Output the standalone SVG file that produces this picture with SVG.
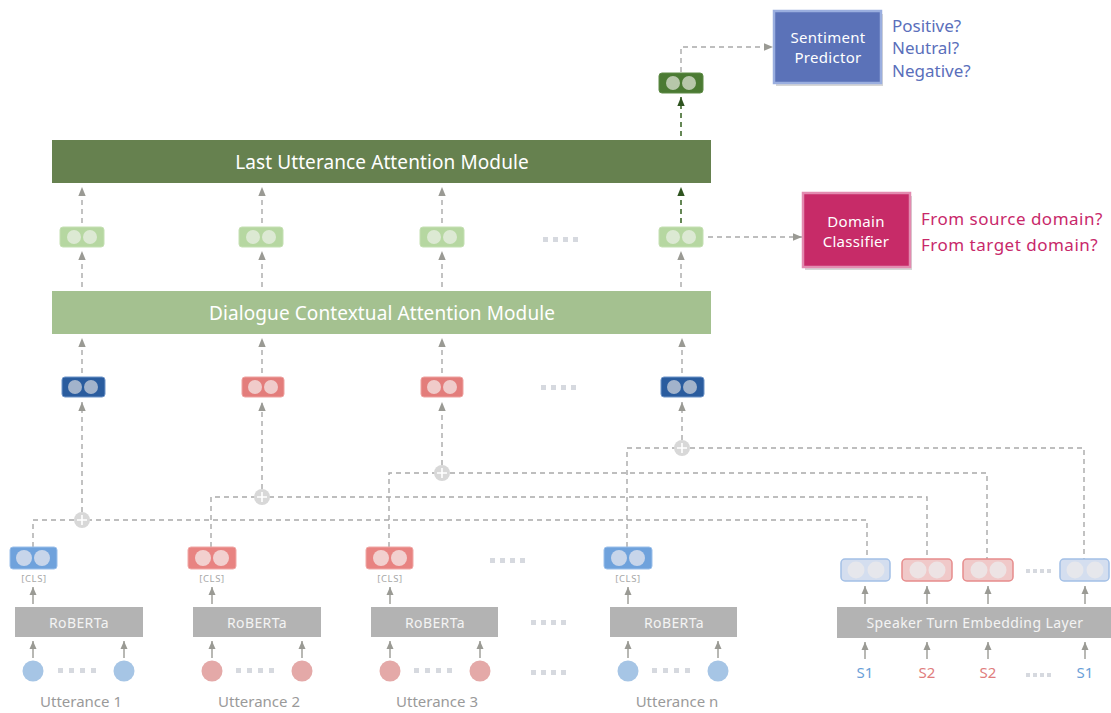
<svg xmlns="http://www.w3.org/2000/svg" width="1111" height="713" viewBox="0 0 1111 713">
<style>
text{font-family:"Noto Sans","Open Sans","Liberation Sans",sans-serif}
.dash{fill:none;stroke:#a9a9a9;stroke-width:1.4;stroke-dasharray:5 4}
.dashg{fill:none;stroke:#3f6a2c;stroke-width:1.6;stroke-dasharray:5 4}
.solid{fill:none;stroke:#9a9a94;stroke-width:1.4}
.dots rect{fill:#d6d9df}
.lbl{fill:#9a9a9a;font-size:15px;text-anchor:middle}
.rob{fill:#b3b3b3}
.robt{fill:#f4f4f4;font-size:14px;text-anchor:middle;letter-spacing:0.4px}
.cls{fill:#a8a8a8;font-size:9.5px;text-anchor:middle;letter-spacing:0.6px}
.plus circle{fill:#d8d8d8}
.plus path{stroke:#fff;stroke-width:1.6}
.mod{fill:#fff;font-size:19px;text-anchor:middle;letter-spacing:0.1px}
.side{font-size:17px}
.boxt{fill:#fff;font-size:15px;text-anchor:middle;letter-spacing:0.3px}
</style>
<defs>
<marker id="ah" markerUnits="userSpaceOnUse" markerWidth="9" markerHeight="12" refX="11" refY="4.5" orient="auto" viewBox="0 0 11 9">
<path d="M0,0 L11,4.5 L0,9 z" fill="#9a9a94"/>
</marker>
<marker id="ahs" markerUnits="userSpaceOnUse" markerWidth="8" markerHeight="8" refX="8" refY="3.5" orient="auto" viewBox="0 0 8 7">
<path d="M0,0 L8,3.5 L0,7 z" fill="#9a9a94"/>
</marker>
<marker id="ahg" markerUnits="userSpaceOnUse" markerWidth="9" markerHeight="12" refX="11" refY="4.5" orient="auto" viewBox="0 0 11 9">
<path d="M0,0 L11,4.5 L0,9 z" fill="#2f5420"/>
</marker>
</defs>

<!-- connectors -->
<g id="connectors">
<path class="dash" d="M33,547 V520 H867 V559"/>
<path class="dash" d="M211,547 V497 H927 V559"/>
<path class="dash" d="M389,547 V473 H987 V559"/>
<path class="dash" d="M627,547 V448 H1084 V559"/>
<line class="dash" x1="82" y1="512" x2="82" y2="402" marker-end="url(#ah)"/>
<line class="dash" x1="262" y1="489" x2="262" y2="402" marker-end="url(#ah)"/>
<line class="dash" x1="442" y1="465" x2="442" y2="402" marker-end="url(#ah)"/>
<line class="dash" x1="682" y1="440" x2="682" y2="402" marker-end="url(#ah)"/>
<line class="dash" x1="82" y1="373" x2="82" y2="338" marker-end="url(#ah)"/>
<line class="dash" x1="262" y1="373" x2="262" y2="338" marker-end="url(#ah)"/>
<line class="dash" x1="442" y1="373" x2="442" y2="338" marker-end="url(#ah)"/>
<line class="dash" x1="682" y1="373" x2="682" y2="338" marker-end="url(#ah)"/>
<line class="dash" x1="82" y1="287" x2="82" y2="251" marker-end="url(#ah)"/>
<line class="dash" x1="262" y1="287" x2="262" y2="251" marker-end="url(#ah)"/>
<line class="dash" x1="442" y1="287" x2="442" y2="251" marker-end="url(#ah)"/>
<line class="dash" x1="681" y1="287" x2="681" y2="251" marker-end="url(#ah)"/>
<line class="dash" x1="82" y1="223" x2="82" y2="187" marker-end="url(#ah)"/>
<line class="dash" x1="262" y1="223" x2="262" y2="187" marker-end="url(#ah)"/>
<line class="dash" x1="442" y1="223" x2="442" y2="187" marker-end="url(#ah)"/>
<line class="dashg" x1="681" y1="223" x2="681" y2="187" marker-end="url(#ahg)"/>
<line class="dashg" x1="681" y1="136" x2="681" y2="97" marker-end="url(#ahg)"/>
<path class="dash" d="M681,72 V47 H773" marker-end="url(#ah)"/>
<line class="dash" x1="708" y1="237" x2="802" y2="237" marker-end="url(#ah)"/>
<line class="solid" x1="33" y1="604" x2="33" y2="587" marker-end="url(#ahs)"/>
<line class="solid" x1="212" y1="604" x2="212" y2="587" marker-end="url(#ahs)"/>
<line class="solid" x1="390" y1="604" x2="390" y2="587" marker-end="url(#ahs)"/>
<line class="solid" x1="628" y1="604" x2="628" y2="587" marker-end="url(#ahs)"/>
<line class="solid" x1="33" y1="658" x2="33" y2="641" marker-end="url(#ahs)"/>
<line class="solid" x1="124" y1="658" x2="124" y2="641" marker-end="url(#ahs)"/>
<line class="solid" x1="212" y1="658" x2="212" y2="641" marker-end="url(#ahs)"/>
<line class="solid" x1="302" y1="658" x2="302" y2="641" marker-end="url(#ahs)"/>
<line class="solid" x1="390" y1="658" x2="390" y2="641" marker-end="url(#ahs)"/>
<line class="solid" x1="480" y1="658" x2="480" y2="641" marker-end="url(#ahs)"/>
<line class="solid" x1="628" y1="658" x2="628" y2="641" marker-end="url(#ahs)"/>
<line class="solid" x1="718" y1="658" x2="718" y2="641" marker-end="url(#ahs)"/>
<line class="solid" x1="865" y1="604" x2="865" y2="586" marker-end="url(#ahs)"/>
<line class="solid" x1="927" y1="604" x2="927" y2="586" marker-end="url(#ahs)"/>
<line class="solid" x1="988" y1="604" x2="988" y2="586" marker-end="url(#ahs)"/>
<line class="solid" x1="1085" y1="604" x2="1085" y2="586" marker-end="url(#ahs)"/>
<line class="solid" x1="865" y1="659" x2="865" y2="642" marker-end="url(#ahs)"/>
<line class="solid" x1="927" y1="659" x2="927" y2="642" marker-end="url(#ahs)"/>
<line class="solid" x1="988" y1="659" x2="988" y2="642" marker-end="url(#ahs)"/>
<line class="solid" x1="1085" y1="659" x2="1085" y2="642" marker-end="url(#ahs)"/>
</g>

<g id="plus1" class="plus"><circle cx="82" cy="520" r="8"/><path d="M77,520 H87 M82,515 V525"/></g>
<g id="plus2" class="plus"><circle cx="262" cy="497" r="8"/><path d="M257,497 H267 M262,492 V502"/></g>
<g id="plus3" class="plus"><circle cx="442" cy="473" r="8"/><path d="M437,473 H447 M442,468 V478"/></g>
<g id="plus4" class="plus"><circle cx="682" cy="448" r="8"/><path d="M677,448 H687 M682,443 V453"/></g>

<g id="luam">
<rect x="52" y="140" width="659" height="43" fill="#66814f"/>
<text class="mod" x="382" y="169">Last Utterance Attention Module</text>
</g>
<g id="dcam">
<rect x="52" y="291" width="659" height="43" fill="#a4c190"/>
<text class="mod" x="382" y="320">Dialogue Contextual Attention Module</text>
</g>

<g id="g1"><rect x="60" y="227" width="44" height="20" rx="3" fill="#b6d7a1" stroke="#c5e0b3"/><circle cx="74" cy="237" r="7" fill="#dce9d3"/><circle cx="90" cy="237" r="7" fill="#dce9d3"/></g>
<g id="g2"><rect x="239" y="227" width="44" height="20" rx="3" fill="#b6d7a1" stroke="#c5e0b3"/><circle cx="253" cy="237" r="7" fill="#dce9d3"/><circle cx="269" cy="237" r="7" fill="#dce9d3"/></g>
<g id="g3"><rect x="420" y="227" width="44" height="20" rx="3" fill="#b6d7a1" stroke="#c5e0b3"/><circle cx="434" cy="237" r="7" fill="#dce9d3"/><circle cx="450" cy="237" r="7" fill="#dce9d3"/></g>
<g id="g4"><rect x="659" y="227" width="44" height="20" rx="3" fill="#b6d7a1" stroke="#c5e0b3"/><circle cx="673" cy="237" r="7" fill="#dce9d3"/><circle cx="689" cy="237" r="7" fill="#dce9d3"/></g>
<g class="dots"><rect x="543" y="237" width="5" height="5"/><rect x="553" y="237" width="5" height="5"/><rect x="563" y="237" width="5" height="5"/><rect x="573" y="237" width="5" height="5"/></g>

<g id="out"><rect x="659" y="73" width="44" height="20" rx="3" fill="#4b7a33" stroke="#5e8b46"/><circle cx="673" cy="83" r="7" fill="#b7c7aa"/><circle cx="689" cy="83" r="7" fill="#b7c7aa"/></g>

<g id="sentiment">
<rect x="776" y="14" width="107" height="72" fill="#d6d6d6"/>
<rect x="774" y="11" width="107" height="72" fill="#5b72b8" stroke="#9aaedf" stroke-width="2.5"/>
<text class="boxt" x="828" y="43">Sentiment</text>
<text class="boxt" x="828" y="63">Predictor</text>
<text class="side" x="892" y="32" fill="#5a6fbb">Positive?</text>
<text class="side" x="892" y="54" fill="#5a6fbb">Neutral?</text>
<text class="side" x="892" y="77" fill="#5a6fbb">Negative?</text>
</g>

<g id="domain">
<rect x="805" y="196" width="107" height="74" fill="#d6d6d6"/>
<rect x="803" y="193" width="107" height="74" fill="#c72b68" stroke="#e38bb0" stroke-width="2.5"/>
<text class="boxt" x="856" y="227">Domain</text>
<text class="boxt" x="856" y="247">Classifier</text>
<text class="side" x="921" y="225" fill="#c8286a" letter-spacing="0.5">From source domain?</text>
<text class="side" x="921" y="251" fill="#c8286a" letter-spacing="0.5">From target domain?</text>
</g>

<g id="u1sum"><rect x="62" y="377" width="43" height="20" rx="3" fill="#2a5c9e" stroke="#6f95c8"/><circle cx="75" cy="387" r="7" fill="#a2b3cb"/><circle cx="91" cy="387" r="7" fill="#a2b3cb"/></g>
<g id="u2sum"><rect x="242" y="377" width="42" height="20" rx="3" fill="#e37d7b" stroke="#eea3a1"/><circle cx="255" cy="387" r="7" fill="#f0cbca"/><circle cx="271" cy="387" r="7" fill="#f0cbca"/></g>
<g id="u3sum"><rect x="421" y="377" width="42" height="20" rx="3" fill="#e37d7b" stroke="#eea3a1"/><circle cx="434" cy="387" r="7" fill="#f0cbca"/><circle cx="450" cy="387" r="7" fill="#f0cbca"/></g>
<g id="unsum"><rect x="661" y="377" width="43" height="20" rx="3" fill="#2a5c9e" stroke="#6f95c8"/><circle cx="674" cy="387" r="7" fill="#a2b3cb"/><circle cx="690" cy="387" r="7" fill="#a2b3cb"/></g>
<g class="dots"><rect x="541" y="385" width="5" height="5"/><rect x="551" y="385" width="5" height="5"/><rect x="561" y="385" width="5" height="5"/><rect x="571" y="385" width="5" height="5"/></g>

<g id="cls1"><rect x="10" y="547" width="47" height="22" rx="3" fill="#6fa2dc" stroke="#9cc0ea"/><circle cx="24" cy="558" r="8" fill="#c7d5ea"/><circle cx="42" cy="558" r="8" fill="#c7d5ea"/><text class="cls" x="34" y="582">[CLS]</text></g>
<g id="cls2"><rect x="188" y="547" width="48" height="22" rx="3" fill="#e88381" stroke="#f0a9a7"/><circle cx="203" cy="558" r="8" fill="#f2d0cf"/><circle cx="221" cy="558" r="8" fill="#f2d0cf"/><text class="cls" x="212" y="582">[CLS]</text></g>
<g id="cls3"><rect x="366" y="547" width="47" height="22" rx="3" fill="#e88381" stroke="#f0a9a7"/><circle cx="381" cy="558" r="8" fill="#f2d0cf"/><circle cx="399" cy="558" r="8" fill="#f2d0cf"/><text class="cls" x="390" y="582">[CLS]</text></g>
<g id="clsn"><rect x="604" y="547" width="48" height="22" rx="3" fill="#6fa2dc" stroke="#9cc0ea"/><circle cx="619" cy="558" r="8" fill="#c7d5ea"/><circle cx="637" cy="558" r="8" fill="#c7d5ea"/><text class="cls" x="628" y="582">[CLS]</text></g>
<g class="dots"><rect x="490" y="558" width="5" height="5"/><rect x="500" y="558" width="5" height="5"/><rect x="510" y="558" width="5" height="5"/><rect x="520" y="558" width="5" height="5"/></g>

<g id="rob1"><rect class="rob" x="15" y="607" width="128" height="30"/><text class="robt" x="79" y="628">RoBERTa</text></g>
<g id="rob2"><rect class="rob" x="193" y="607" width="128" height="30"/><text class="robt" x="257" y="628">RoBERTa</text></g>
<g id="rob3"><rect class="rob" x="371" y="607" width="127" height="30"/><text class="robt" x="435" y="628">RoBERTa</text></g>
<g id="robn"><rect class="rob" x="610" y="607" width="127" height="30"/><text class="robt" x="674" y="628">RoBERTa</text></g>
<g class="dots"><rect x="531" y="620" width="5" height="5"/><rect x="541" y="620" width="5" height="5"/><rect x="551" y="620" width="5" height="5"/><rect x="561" y="620" width="5" height="5"/></g>

<g id="tok1"><circle cx="33" cy="671" r="10.5" fill="#a6c5e5"/><circle cx="124" cy="671" r="10.5" fill="#a6c5e5"/>
<g class="dots"><rect x="58" y="668" width="5" height="5"/><rect x="69" y="668" width="5" height="5"/><rect x="80" y="668" width="5" height="5"/><rect x="91" y="668" width="5" height="5"/></g>
<text class="lbl" x="81" y="707">Utterance 1</text></g>
<g id="tok2"><circle cx="212" cy="671" r="10.5" fill="#e4a9a8"/><circle cx="302" cy="671" r="10.5" fill="#e4a9a8"/>
<g class="dots"><rect x="236" y="668" width="5" height="5"/><rect x="247" y="668" width="5" height="5"/><rect x="258" y="668" width="5" height="5"/><rect x="269" y="668" width="5" height="5"/></g>
<text class="lbl" x="259" y="707">Utterance 2</text></g>
<g id="tok3"><circle cx="390" cy="671" r="10.5" fill="#e4a9a8"/><circle cx="480" cy="671" r="10.5" fill="#e4a9a8"/>
<g class="dots"><rect x="414" y="668" width="5" height="5"/><rect x="425" y="668" width="5" height="5"/><rect x="436" y="668" width="5" height="5"/><rect x="447" y="668" width="5" height="5"/></g>
<text class="lbl" x="437" y="707">Utterance 3</text></g>
<g id="tokn"><circle cx="628" cy="671" r="10.5" fill="#a6c5e5"/><circle cx="718" cy="671" r="10.5" fill="#a6c5e5"/>
<g class="dots"><rect x="652" y="668" width="5" height="5"/><rect x="663" y="668" width="5" height="5"/><rect x="674" y="668" width="5" height="5"/><rect x="685" y="668" width="5" height="5"/></g>
<text class="lbl" x="677" y="707">Utterance n</text></g>
<g class="dots"><rect x="531" y="670" width="5" height="5"/><rect x="541" y="670" width="5" height="5"/><rect x="551" y="670" width="5" height="5"/><rect x="561" y="670" width="5" height="5"/></g>

<g id="spk1"><rect x="841" y="559" width="49" height="22" rx="4" fill="#d4deef" stroke="#a3c0e6" stroke-width="1.5"/><circle cx="856" cy="570" r="8.5" fill="#e6e7ec"/><circle cx="876" cy="570" r="8.5" fill="#e6e7ec"/></g>
<g id="spk2"><rect x="902" y="559" width="50" height="22" rx="4" fill="#f0c9c9" stroke="#e68c8c" stroke-width="1.5"/><circle cx="918" cy="570" r="8.5" fill="#ede3e4"/><circle cx="937" cy="570" r="8.5" fill="#ede3e4"/></g>
<g id="spk3"><rect x="963" y="559" width="50" height="22" rx="4" fill="#f0c9c9" stroke="#e68c8c" stroke-width="1.5"/><circle cx="979" cy="570" r="8.5" fill="#ede3e4"/><circle cx="998" cy="570" r="8.5" fill="#ede3e4"/></g>
<g id="spk4"><rect x="1060" y="559" width="49" height="22" rx="4" fill="#d4deef" stroke="#a3c0e6" stroke-width="1.5"/><circle cx="1075" cy="570" r="8.5" fill="#e6e7ec"/><circle cx="1095" cy="570" r="8.5" fill="#e6e7ec"/></g>
<g class="dots"><rect x="1026" y="569" width="4" height="4"/><rect x="1033" y="569" width="4" height="4"/><rect x="1040" y="569" width="4" height="4"/><rect x="1047" y="569" width="4" height="4"/></g>
<g id="ste"><rect class="rob" x="837" y="607" width="274" height="31"/><text class="robt" x="975" y="628" font-size="15" letter-spacing="0.2">Speaker Turn Embedding Layer</text></g>
<g id="speakers" font-size="15" text-anchor="middle">
<text x="865" y="678" fill="#6a9fd8">S1</text>
<text x="927" y="678" fill="#e07d7d">S2</text>
<text x="988" y="678" fill="#e07d7d">S2</text>
<text x="1085" y="678" fill="#6a9fd8">S1</text>
<g class="dots"><rect x="1026" y="673" width="4" height="4"/><rect x="1033" y="673" width="4" height="4"/><rect x="1040" y="673" width="4" height="4"/><rect x="1047" y="673" width="4" height="4"/></g>
</g>
</svg>
